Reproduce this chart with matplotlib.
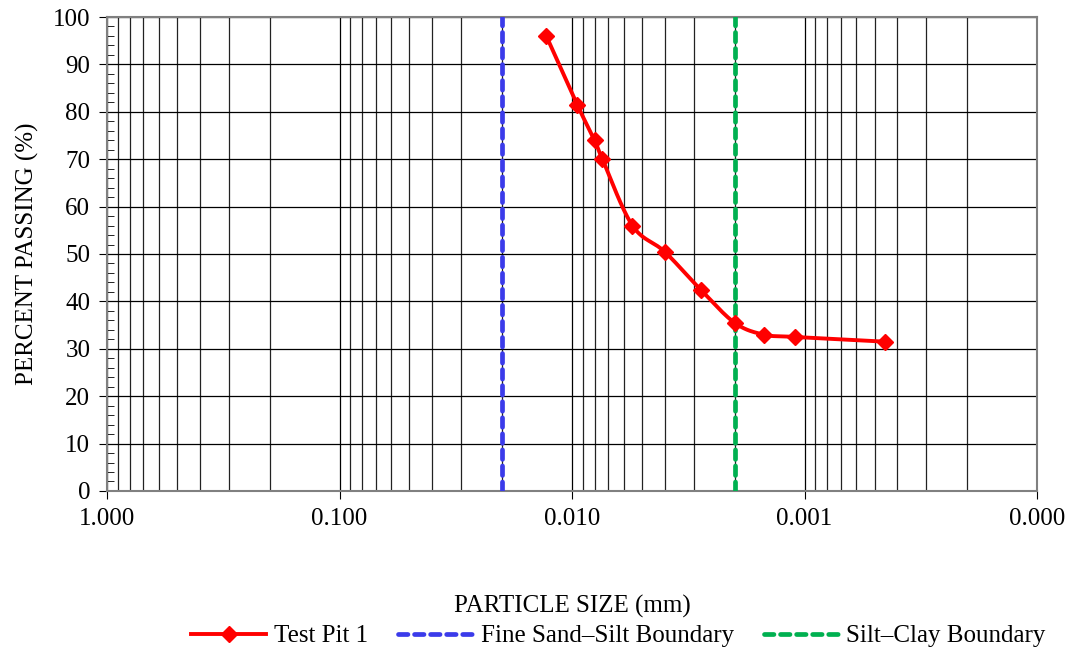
import matplotlib
matplotlib.use('Agg')
import matplotlib.pyplot as plt
import numpy as np
from matplotlib.ticker import FixedLocator, LogLocator, FuncFormatter, MultipleLocator

plt.rcParams['font.family'] = ['Liberation Serif', 'DejaVu Serif']

# sieve / hydrometer data
size_mm = [0.0129, 0.0095, 0.0080, 0.0074, 0.0055, 0.0040, 0.0028,
           0.0020, 0.0015, 0.0011, 0.00045]
passing = [96.0, 81.5, 74.0, 70.0, 56.0, 50.5, 42.5, 35.5, 33.0, 32.5, 31.5]

sand_silt = 0.02
silt_clay = 0.002


def smooth_path(ax, xs, ys, n=20):
    # excel style smoothed line: catmull-rom in screen space
    pts = ax.transData.transform(np.column_stack([xs, ys]))
    out = []
    m = len(pts)
    for i in range(m - 1):
        p0 = pts[max(i - 1, 0)]
        p1 = pts[i]
        p2 = pts[i + 1]
        p3 = pts[min(i + 2, m - 1)]
        c1 = p1 + (p2 - p0) / 6.0
        c2 = p2 - (p3 - p1) / 6.0
        t = np.linspace(0, 1, n)[:, None]
        seg = ((1 - t) ** 3) * p1 + 3 * ((1 - t) ** 2) * t * c1 + \
            3 * (1 - t) * t ** 2 * c2 + t ** 3 * p2
        out.append(seg if i == 0 else seg[1:])
    out = np.vstack(out)
    data = ax.transData.inverted().transform(out)
    return data[:, 0], data[:, 1]


fig = plt.figure(figsize=(10.72, 6.49), dpi=100)
ax = fig.add_axes([0.0998, 0.2435, 0.8676, 0.7303])

ax.set_xscale('log')
ax.set_xlim(1.0, 0.0001)
ax.set_ylim(0, 100)

ax.xaxis.set_major_locator(FixedLocator([1.0, 0.1, 0.01, 0.001, 0.0001]))
ax.xaxis.set_minor_locator(LogLocator(base=10, subs=range(2, 10), numticks=20))
ax.xaxis.set_major_formatter(FuncFormatter(lambda v, p: '%.3f' % v))
ax.xaxis.set_minor_formatter(FuncFormatter(lambda v, p: ''))
ax.yaxis.set_major_locator(MultipleLocator(10))
ax.yaxis.set_minor_locator(MultipleLocator(2))

ax.grid(True, which='major', axis='both', color='black', lw=0.9)
ax.grid(True, which='minor', axis='x', color='#222222', lw=0.9)
ax.set_axisbelow(True)

ax.tick_params(axis='x', which='major', direction='out', length=6, labelsize=18, pad=6)
ax.tick_params(axis='x', which='minor', length=0)
ax.tick_params(axis='y', which='major', direction='out', length=6, labelsize=18, pad=6)
ax.tick_params(axis='y', which='minor', direction='in', length=5)
for s in ax.spines.values():
    s.set_color('#808080')
    s.set_linewidth(1.5)

sx, sy = smooth_path(ax, size_mm, passing)
ax.plot(sx, sy, color='#ff0000', lw=2.8, zorder=5)
ax.plot(size_mm, passing, color='#ff0000', lw=0, marker='D', ms=8, zorder=6)
# legend proxy
ax.plot([], [], color='#ff0000', lw=2.8, marker='D', ms=8, label='Test Pit 1')
ax.axvline(sand_silt, color='#3b3bea', lw=3.4, ls=(0, (2.0, 1.4)),
           dash_capstyle='round', label='Fine Sand\u2013Silt Boundary', zorder=4)
ax.axvline(silt_clay, color='#00b050', lw=3.4, ls=(0, (2.0, 1.4)),
           dash_capstyle='round', label='Silt\u2013Clay Boundary', zorder=4)

ax.set_xlabel('PARTICLE SIZE (mm)', fontsize=18, labelpad=47)
ax.set_ylabel('PERCENT PASSING (%)', fontsize=18, labelpad=10)

fig.legend(loc='center', bbox_to_anchor=(0.577, 0.02), ncol=3, frameon=False,
           fontsize=18, handlelength=3.0, handletextpad=0.3, columnspacing=1.2)

fig.savefig('out.png', dpi=100)
